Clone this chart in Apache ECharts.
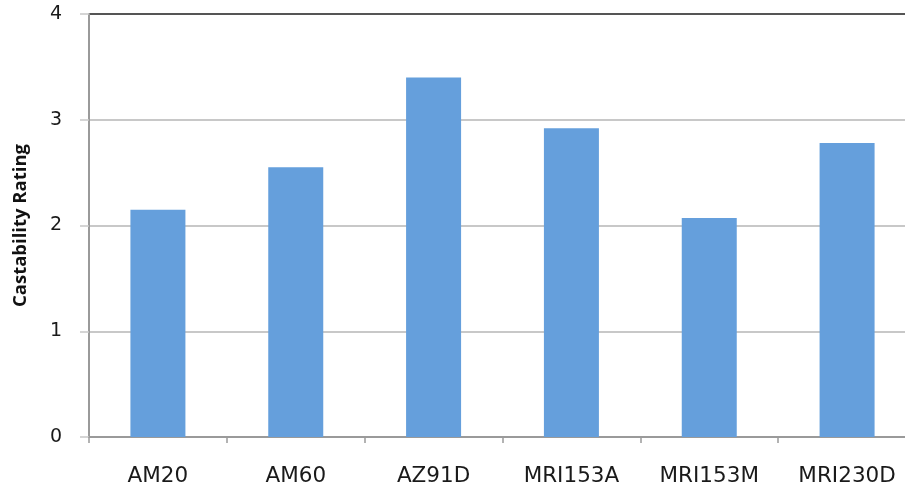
<!DOCTYPE html>
<html>
<head>
<meta charset="utf-8">
<script src="https://cdn.jsdelivr.net/npm/echarts@6/dist/echarts.min.js"></script>
<style>html,body{margin:0;padding:0;background:#fff}#c{width:905px;height:488px}</style>
</head>
<body>
<div id="c"></div>
<script>
var categories = ['AM20', 'AM60', 'AZ91D', 'MRI153A', 'MRI153M', 'MRI230D'];
var ratings = [2.15, 2.55, 3.40, 2.92, 2.07, 2.78];
var yTicks = [0, 1, 2, 3, 4];

var chart = echarts.init(document.getElementById('c'), null, {renderer: 'canvas'});
chart.setOption({
  animation: false,
  backgroundColor: '#fff',
  grid: {left: 89, top: 14, width: 827, bottom: 51, containLabel: false, outerBoundsMode: 'none'},
  xAxis: {
    type: 'category',
    data: categories,
    axisLine: {lineStyle: {color: '#9a9a9a', width: 2}},
    axisTick: {show: true, length: 6, lineStyle: {color: '#9a9a9a', width: 1.5}},
    axisLabel: {color: '#1a1a1a', fontFamily: 'DejaVu Sans', fontSize: 21.5, margin: 28, hideOverlap: false}
  },
  yAxis: {
    type: 'value',
    min: yTicks[0],
    max: yTicks[yTicks.length - 1],
    interval: 1,
    name: 'Castability Rating',
    nameLocation: 'middle',
    nameGap: 59,
    nameTextStyle: {color: '#111', fontFamily: 'Open Sans', fontWeight: 'bold', fontSize: 18.5},
    axisLine: {show: true, lineStyle: {color: '#9a9a9a', width: 2}},
    axisTick: {show: true, length: 9, lineStyle: {color: '#c8c8c8', width: 1.5}},
    axisLabel: {color: '#1a1a1a', fontFamily: 'DejaVu Sans', fontSize: 19, margin: 27},
    splitLine: {show: true, lineStyle: {color: ['#c8c8c8', '#c8c8c8', '#c8c8c8', '#c8c8c8', '#555555'], width: 2}}
  },
  series: [{
    type: 'bar',
    data: ratings,
    barWidth: 55,
    itemStyle: {color: '#659FDC'}
  }]
});
</script>
</body>
</html>
